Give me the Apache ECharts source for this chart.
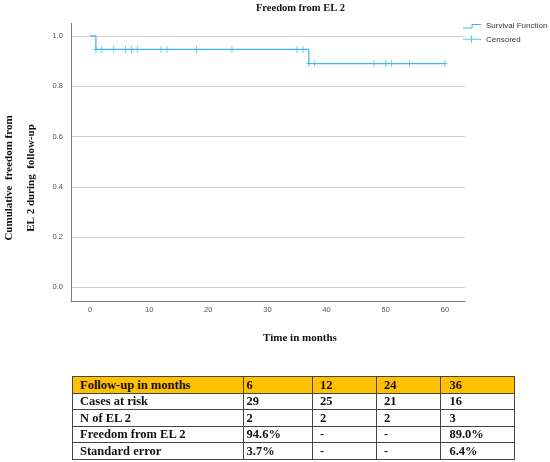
<!DOCTYPE html>
<html><head><meta charset="utf-8">
<script src="https://cdn.jsdelivr.net/npm/echarts@6/dist/echarts.min.js"></script>
<style>
html,body{margin:0;padding:0;background:#fff;}
#chart{position:absolute;left:0;top:0;width:550px;height:462px;}
#tbl{position:absolute;left:71.5px;top:376px;border-collapse:collapse;table-layout:fixed;font-family:"Liberation Serif","DejaVu Serif",serif;font-weight:bold;font-size:12.5px;color:#111;}
#tbl td{border:1px solid #444;padding:0;white-space:nowrap;overflow:hidden;line-height:14px;}
#tbl tr{height:16.5px;}
#tbl tr.head td{background:#FFC000;}
</style></head><body>
<div id="chart"></div>
<table id="tbl"></table>
<script>
// ---- data ----
const chartTitle = 'Freedom from EL 2';
const xAxisTitle = 'Time in months';
const yAxisTitleLines = ['Cumulative  freedom from', 'EL 2 during  follow-up'];
const seriesNames = ['Survival Function', 'Censored'];
const eventTimes = [0, 1, 37, 60];
const survivalValues = [1.0, 0.946, 0.89, 0.89];
const censoredTimes = [1, 2, 4, 6, 7, 8, 12, 13, 18, 24, 35, 36, 37, 38, 48, 50, 51, 54, 60];
const censoredValues = [0.946, 0.946, 0.946, 0.946, 0.946, 0.946, 0.946, 0.946, 0.946, 0.946, 0.946, 0.946, 0.89, 0.89, 0.89, 0.89, 0.89, 0.89, 0.89];
const xTicks = [0, 10, 20, 30, 40, 50, 60];
const yTicks = [0, 0.2, 0.4, 0.6, 0.8, 1.0];
const tableHeader = ['Follow-up in months', '6', '12', '24', '36'];
const tableRowLabels = ['Cases at risk', 'N of EL 2', 'Freedom from EL 2', 'Standard error'];
const casesAtRisk = ['29', '25', '21', '16'];
const nOfEvents = ['2', '2', '2', '3'];
const freedomPct = ['94.6%', '-', '-', '89.0%'];
const standardError = ['3.7%', '-', '-', '6.4%'];

// ---- table ----
const colWidths = [171.6, 69, 64.4, 64, 73.6];
const colPad = [7.5, 2.5, 7, 6.5, 8];
const tbl = document.getElementById('tbl');
const cg = document.createElement('colgroup');
colWidths.forEach(w => { const c = document.createElement('col'); c.style.width = w + 'px'; cg.appendChild(c); });
tbl.appendChild(cg);
function addRow(cells, cls) {
  const tr = document.createElement('tr');
  if (cls) tr.className = cls;
  cells.forEach((t, i) => {
    const td = document.createElement('td');
    td.textContent = t;
    td.style.paddingLeft = colPad[i] + 'px';
    tr.appendChild(td);
  });
  tbl.appendChild(tr);
}
addRow(tableHeader, 'head');
[casesAtRisk, nOfEvents, freedomPct, standardError].forEach((vals, i) => addRow([tableRowLabels[i]].concat(vals)));

// ---- chart ----
const blue = '#3cb4ef';
const serif = '"Liberation Serif", "DejaVu Serif", serif';
const sans = '"Liberation Sans", Arial, sans-serif';
const plusPath = 'path://M4.1,0H5.9V4.3H10V5.7H5.9V10H4.1V5.7H0V4.3H4.1Z';
const stepIcon = 'path://M0,0L0.01,0L0,0.01Z M0,8L0.01,8L0,7.99Z M0,5.6H8.6V2H18V3H9.6V6.6H0Z';
const censIcon = 'path://M0,0L0.01,0L0,0.01Z M0,8L0.01,8L0,7.99Z M0,3.5H18V4.5H0Z M7.9,0.3H9.1V7.7H7.9Z';

const chart = echarts.init(document.getElementById('chart'), null, {renderer: 'canvas'});
chart.setOption({
  animation: false,
  backgroundColor: '#fff',
  grid: {left: 71, right: 85, top: 23.3, bottom: 160.3, containLabel: false},
  xAxis: {
    type: 'value', min: -3.21, max: 63.4,
    axisLine: {show: true, onZero: false, lineStyle: {color: '#7a7a7a', width: 1}},
    axisTick: {show: false, customValues: xTicks},
    splitLine: {show: false},
    axisLabel: {customValues: xTicks, color: '#555', fontSize: 7.5, fontFamily: sans, margin: 4, formatter: v => String(v)}
  },
  yAxis: {
    type: 'value', min: -0.057, max: 1.05,
    axisLine: {show: true, onZero: false, lineStyle: {color: '#7a7a7a', width: 1}},
    axisTick: {show: false, customValues: yTicks},
    splitLine: {show: true, lineStyle: {color: '#d0d0d0', width: 1}},
    axisLabel: {customValues: yTicks, color: '#555', fontSize: 7.5, fontFamily: sans, margin: 8, formatter: v => v.toFixed(1)}
  },
  legend: {
    orient: 'vertical', left: 463, top: 21, padding: 0, itemWidth: 18, itemHeight: 8, itemGap: 3.3,
    selectedMode: false,
    itemStyle: {borderWidth: 0},
    textStyle: {fontSize: 8, color: '#333', lineHeight: 10, fontFamily: sans},
    data: [{name: seriesNames[0], icon: stepIcon}, {name: seriesNames[1], icon: censIcon}]
  },
  series: [
    {
      name: seriesNames[0], type: 'line', step: 'end', silent: true,
      data: eventTimes.map((t, i) => [t, survivalValues[i]]),
      showSymbol: false, symbol: 'none',
      lineStyle: {color: blue, width: 1.2}, itemStyle: {color: blue}, z: 2
    },
    {
      name: seriesNames[1], type: 'scatter', silent: true,
      data: censoredTimes.map((t, i) => [t, censoredValues[i]]),
      symbol: plusPath, symbolSize: [5, 7],
      itemStyle: {color: blue}, z: 3
    }
  ],
  graphic: [
    {type: 'text', x: 300.5, y: 8, style: {text: chartTitle, font: 'bold 10.5px ' + serif, fill: '#111', align: 'center', verticalAlign: 'middle', textAlign: 'center', textVerticalAlign: 'middle'}},
    {type: 'text', x: 300, y: 338.5, style: {text: xAxisTitle, font: 'bold 11px ' + serif, fill: '#111', align: 'center', verticalAlign: 'middle', textAlign: 'center', textVerticalAlign: 'middle'}},
    {type: 'text', x: 9, y: 178, rotation: Math.PI / 2, style: {text: yAxisTitleLines[0], font: 'bold 11px ' + serif, fill: '#111', align: 'center', verticalAlign: 'middle', textAlign: 'center', textVerticalAlign: 'middle'}},
    {type: 'text', x: 31, y: 178, rotation: Math.PI / 2, style: {text: yAxisTitleLines[1], font: 'bold 11px ' + serif, fill: '#111', align: 'center', verticalAlign: 'middle', textAlign: 'center', textVerticalAlign: 'middle'}}
  ]
});
</script>
</body></html>
